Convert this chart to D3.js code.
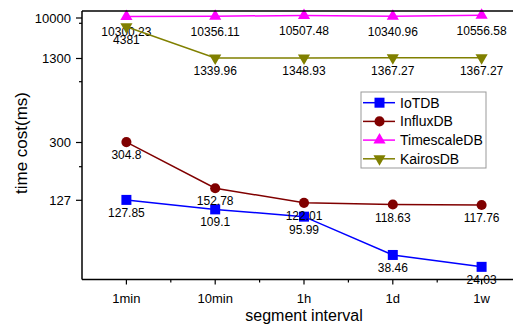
<!DOCTYPE html>
<meta charset="utf-8">
<head>
<title>Segment interval time cost</title>
<script src="https://d3js.org/d3.v7.min.js"></script>
<style>
body { margin: 0; background: #fff; }
text { font-family: "Liberation Sans", Arial, sans-serif; fill: #000; }
</style>
</head>
<body>
<script>
// Data
const categories = ["1min", "10min", "1h", "1d", "1w"];
const iotdb = [127.85, 109.1, 95.99, 38.46, 24.03];
const influxdb = [304.8, 152.78, 122.01, 118.63, 117.76];
const timescaledb = [10300.23, 10356.11, 10507.48, 10340.96, 10556.58];
const kairosdb = [4381, 1339.96, 1348.93, 1367.27, 1367.27];
const seriesNames = ["IoTDB", "InfluxDB", "TimescaleDB", "KairosDB"];
const yTicks = [127, 300, 1300, 10000];
const yMinorTicks = [200, 1000, 6000];

// Chart size
const width = 513, height = 332;
const margin = {top: 11, left: 82};
const plotW = 444;          // right edge runs past the window like the original
const plotBottom = 279.5;

const svg = d3.select("body").append("svg")
    .attr("width", width)
    .attr("height", height);

// x scale: categories evenly spaced
const x = d3.scalePoint()
    .domain(categories)
    .range([margin.left, margin.left + plotW])
    .padding(0.5);

// y scale: the original axis is non-uniform, so use a piecewise scale
const yKnots = [10, 40, 100, 127, 150, 200, 300, 1000, 1300, 4000, 6000, 10000, 11000];
const yKnotPx = [278.4, 253.7, 214, 200.3, 189.5, 166.7, 142.5, 81.7, 58.5, 27.5, 23.3, 18, 13];
const y = d3.scaleLinear().domain(yKnots).range(yKnotPx);

const styles = [
    {color: "#0000ff", symbol: d3.symbolSquare, size: 100, rotate: 0, dy: 17},
    {color: "#800000", symbol: d3.symbolCircle, size: 80, rotate: 0, dy: 17},
    {color: "#ff00ff", symbol: d3.symbolTriangle, size: 64, rotate: 0, dy: 20},
    {color: "#808000", symbol: d3.symbolTriangle, size: 64, rotate: 180, dy: 17}
];
const allSeries = [iotdb, influxdb, timescaledb, kairosdb];

const line = d3.line()
    .x((d, i) => x(categories[i]))
    .y(d => y(d));

// series: line, markers, labels, drawn in order
allSeries.forEach((values, s) => {
    const st = styles[s];
    const g = svg.append("g").attr("class", "series");

    g.append("path")
        .datum(values)
        .attr("fill", "none")
        .attr("stroke", st.color)
        .attr("stroke-width", 1.5)
        .attr("d", line);

    g.selectAll("path.marker")
        .data(values)
        .enter().append("path")
        .attr("class", "marker")
        .attr("d", d3.symbol().type(st.symbol).size(st.size))
        .attr("fill", st.color)
        .attr("transform", (d, i) => `translate(${x(categories[i])},${y(d)}) rotate(${st.rotate})`);

    g.selectAll("text")
        .data(values)
        .enter().append("text")
        .attr("x", (d, i) => x(categories[i]))
        .attr("y", d => y(d) + st.dy)
        .attr("text-anchor", "middle")
        .style("font-size", "12px")
        .text(d => d);
});

// frame
svg.append("line")
    .attr("x1", margin.left).attr("x2", width + 20)
    .attr("y1", margin.top).attr("y2", margin.top)
    .attr("stroke", "#000").attr("stroke-width", 1.5);
svg.append("line")
    .attr("x1", margin.left).attr("x2", margin.left)
    .attr("y1", margin.top).attr("y2", plotBottom)
    .attr("stroke", "#000").attr("stroke-width", 1.5);
svg.append("line")
    .attr("x1", margin.left).attr("x2", width + 20)
    .attr("y1", plotBottom).attr("y2", plotBottom)
    .attr("stroke", "#000").attr("stroke-width", 1.5);

// x axis ticks and labels
const xMinor = categories.slice(0, -1).map((c, i) => (x(c) + x(categories[i + 1])) / 2);
svg.selectAll("line.xtick")
    .data(categories)
    .enter().append("line")
    .attr("x1", d => x(d)).attr("x2", d => x(d))
    .attr("y1", plotBottom).attr("y2", plotBottom + 5)
    .attr("stroke", "#000").attr("stroke-width", 1.2);
svg.selectAll("line.xminor")
    .data(xMinor)
    .enter().append("line")
    .attr("x1", d => d).attr("x2", d => d)
    .attr("y1", plotBottom).attr("y2", plotBottom + 3)
    .attr("stroke", "#000").attr("stroke-width", 1.2);
svg.selectAll("text.xlabel")
    .data(categories)
    .enter().append("text")
    .attr("x", d => x(d))
    .attr("y", 302.5)
    .attr("text-anchor", "middle")
    .style("font-size", "13px")
    .text(d => d);

// y axis ticks and labels
svg.selectAll("line.ytick")
    .data(yTicks)
    .enter().append("line")
    .attr("x1", margin.left - 6).attr("x2", margin.left)
    .attr("y1", d => y(d)).attr("y2", d => y(d))
    .attr("stroke", "#000").attr("stroke-width", 1.2);
svg.selectAll("line.yminor")
    .data(yMinorTicks)
    .enter().append("line")
    .attr("x1", margin.left - 3).attr("x2", margin.left)
    .attr("y1", d => y(d)).attr("y2", d => y(d))
    .attr("stroke", "#000").attr("stroke-width", 1.2);
svg.selectAll("text.ylabel")
    .data(yTicks)
    .enter().append("text")
    .attr("x", 71)
    .attr("y", d => y(d))
    .attr("dy", "0.36em")
    .attr("text-anchor", "end")
    .style("font-size", "13px")
    .text(d => d);

// axis titles
svg.append("text")
    .attr("x", margin.left + plotW / 2)
    .attr("y", 320.5)
    .attr("text-anchor", "middle")
    .style("font-size", "16px")
    .text("segment interval");
svg.append("text")
    .attr("transform", "translate(27,143) rotate(-90)")
    .attr("text-anchor", "middle")
    .style("font-size", "17px")
    .text("time cost(ms)");

// legend
const legend = svg.append("g").attr("transform", "translate(361,92)");
legend.append("rect")
    .attr("width", 125).attr("height", 76)
    .attr("fill", "#fff").attr("stroke", "#999").attr("stroke-width", 1);
seriesNames.forEach((name, s) => {
    const st = styles[s];
    const ry = 10.7 + s * 18.7;
    legend.append("line")
        .attr("x1", 2).attr("x2", 34)
        .attr("y1", ry).attr("y2", ry)
        .attr("stroke", st.color).attr("stroke-width", 1.5);
    legend.append("path")
        .attr("d", d3.symbol().type(st.symbol).size(st.size)())
        .attr("fill", st.color)
        .attr("transform", `translate(18.5,${ry}) rotate(${st.rotate})`);
    legend.append("text")
        .attr("x", 39).attr("y", ry)
        .attr("dy", "0.36em")
        .style("font-size", "14px")
        .text(name);
});
</script>
</body>
</html>
